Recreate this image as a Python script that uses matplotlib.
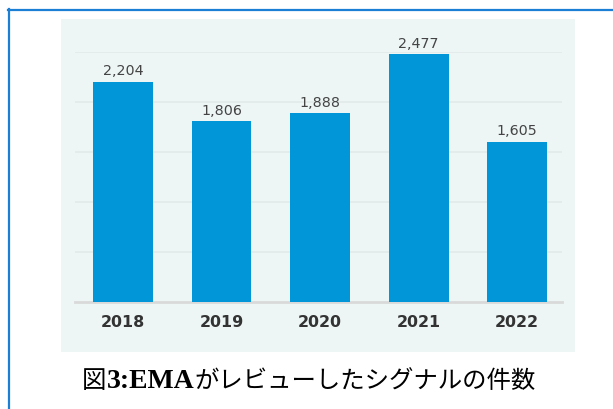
import matplotlib
matplotlib.use("Agg")
import matplotlib.pyplot as plt
from matplotlib.patches import Rectangle
from matplotlib.lines import Line2D

years = ["2018", "2019", "2020", "2021", "2022"]
signals = [2204, 1806, 1888, 2477, 1605]
caption_parts = ["図", "3:EMA", "がレビューしたシグナルの件数"]

W, H = 613, 410
fig = plt.figure(figsize=(W / 100, H / 100), dpi=100)
fig.patch.set_facecolor("white")

def fx(px):
    return px / W

def fy(py):
    return 1 - py / H

# outer blue frame (only top/left visible)
fig.add_artist(Line2D([fx(8.5), fx(8.5)], [fy(10), 0], color="#1c7fd6", lw=1.6))
fig.add_artist(Line2D([fx(8), 1], [fy(10.5), fy(10.5)], color="#1c7fd6", lw=1.6))

# light panel behind the chart
fig.add_artist(Rectangle((fx(61), fy(353)), fx(575 - 61), (353 - 20) / H,
                         facecolor="#edf5f5", edgecolor="none", zorder=0))

ax = fig.add_axes([fx(75), fy(303), fx(487), 250 / H])
ax.set_facecolor("none")
x = list(range(len(years)))
ax.bar(x, signals, width=0.608, color="#0096d8", zorder=3)
ax.set_xlim(-0.487, 4.456)
ax.set_ylim(0, 2500)
ax.set_yticks([500, 1000, 1500, 2000, 2500])
ax.yaxis.grid(True, color="#e2e9e9", lw=1.2, zorder=0)
ax.tick_params(axis="y", left=False, labelleft=False)
ax.tick_params(axis="x", length=0, pad=9)
ax.set_xticks(x)
ax.set_xticklabels(years, fontsize=11.4, fontweight="bold", color="#333333")
for s in ["top", "right", "left"]:
    ax.spines[s].set_visible(False)
ax.spines["bottom"].set_color("#d9d9d9")
ax.spines["bottom"].set_linewidth(2)

for xi, v in zip(x, signals):
    ax.annotate(f"{v:,}", (xi, v), xytext=(0, 3), textcoords="offset points",
                ha="center", va="bottom", fontsize=10.3, color="#444444")

# caption: mixed fonts, placed piece by piece on one baseline
styles = [
    dict(fontsize=17.6, family=["Noto Sans CJK JP"]),
    dict(fontsize=20, fontweight="bold", family=["Liberation Serif"]),
    dict(fontsize=17.6, family=["Noto Sans CJK JP"]),
]
cx = 82
renderer = fig.canvas.get_renderer()
for part, st in zip(caption_parts, styles):
    t = fig.text(fx(cx), fy(388), part, ha="left", va="baseline", color="black", **st)
    bb = t.get_window_extent(renderer=renderer)
    cx = bb.x1

fig.savefig("out.png", dpi=100)
